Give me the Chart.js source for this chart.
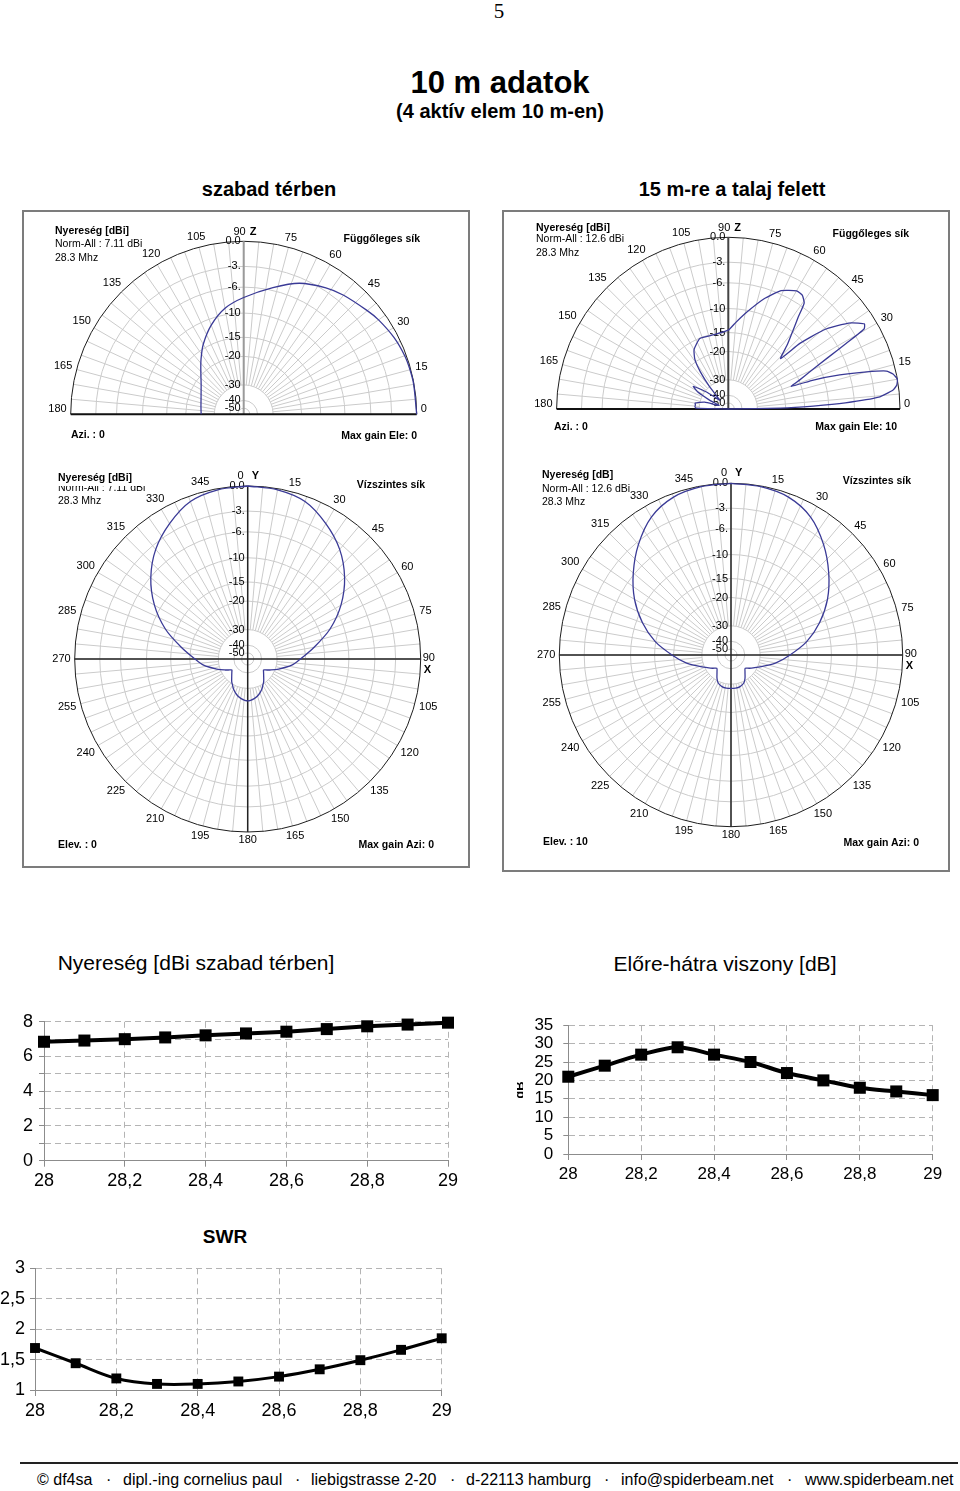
<!DOCTYPE html>
<html>
<head>
<meta charset="utf-8">
<script src="https://cdn.jsdelivr.net/npm/chart.js@4.4.1/dist/chart.umd.min.js"></script>
<style>
body{margin:0;width:960px;height:1491px;position:relative;background:#fff;font-family:Arial,"Liberation Sans",sans-serif;overflow:hidden;color:#000}
.t{position:absolute;white-space:nowrap}
.ctr{transform:translate(-50%,-50%)}
.c{position:absolute}
.frame{position:absolute;border:2px solid #7c7c7c;box-sizing:border-box}
.pl{position:absolute;white-space:nowrap;font-size:10.5px;line-height:12px}
.b{font-weight:bold}
.foot{position:absolute;top:1471px;font-size:16px;white-space:nowrap}
</style>
</head>
<body>

<div class="t ctr" style="left:499px;top:11px;font-family:'Liberation Serif','Times New Roman',serif;font-size:21px">5</div>
<div class="t ctr b" style="left:500px;top:83px;font-size:31px">10 m adatok</div>
<div class="t ctr b" style="left:500px;top:111px;font-size:20px">(4 aktív elem 10 m-en)</div>
<div class="t ctr b" style="left:269px;top:189px;font-size:20px">szabad térben</div>
<div class="t ctr b" style="left:732px;top:189px;font-size:20px">15 m-re a talaj felett</div>

<div class="frame" style="left:22px;top:210px;width:448px;height:658px"></div>
<div class="frame" style="left:502px;top:210px;width:448px;height:662px"></div>

<canvas id="pTL" class="c" width="444" height="243" style="left:24px;top:212px"></canvas>
<canvas id="pBL" class="c" width="444" height="409" style="left:24px;top:457px"></canvas>
<canvas id="pTR" class="c" width="444" height="243" style="left:504px;top:212px"></canvas>
<canvas id="pBR" class="c" width="444" height="413" style="left:504px;top:457px"></canvas>

<!-- feliratok: bal felső -->
<div class="pl b" style="left:55px;top:224px">Nyereség [dBi]</div>
<div class="pl" style="left:55px;top:237px">Norm-All : 7.11 dBi</div>
<div class="pl" style="left:55px;top:251px">28.3 Mhz</div>
<div class="pl b" style="right:540px;top:232px">Függőleges sík</div>
<div class="pl b" style="left:71px;top:428px">Azi. : 0</div>
<div class="pl b" style="right:543px;top:429px">Max gain Ele: 0</div>
<!-- jobb felső -->
<div class="pl b" style="left:536px;top:221px">Nyereség [dBi]</div>
<div class="pl" style="left:536px;top:232px">Norm-All : 12.6 dBi</div>
<div class="pl" style="left:536px;top:246px">28.3 Mhz</div>
<div class="pl b" style="right:51px;top:227px">Függőleges sík</div>
<div class="pl b" style="left:554px;top:420px">Azi. : 0</div>
<div class="pl b" style="right:63px;top:420px">Max gain Ele: 10</div>
<!-- bal alsó -->
<div class="pl b" style="left:58px;top:471px">Nyereség [dBi]</div>
<div style="position:absolute;left:58px;top:486px;width:90px;height:7px;overflow:hidden"><div class="pl" style="left:0;top:-5px">Norm-All : 7.11 dBi</div></div>
<div class="pl" style="left:58px;top:494px">28.3 Mhz</div>
<div class="pl b" style="right:535px;top:478px">Vízszintes sík</div>
<div class="pl b" style="left:58px;top:838px">Elev. : 0</div>
<div class="pl b" style="right:526px;top:838px">Max gain Azi: 0</div>
<!-- jobb alsó -->
<div class="pl b" style="left:542px;top:468px">Nyereség [dB]</div>
<div class="pl" style="left:542px;top:482px">Norm-All : 12.6 dBi</div>
<div class="pl" style="left:542px;top:495px">28.3 Mhz</div>
<div class="pl b" style="right:49px;top:474px">Vízszintes sík</div>
<div class="pl b" style="left:543px;top:835px">Elev. : 10</div>
<div class="pl b" style="right:41px;top:836px">Max gain Azi: 0</div>

<div class="t ctr" style="left:196px;top:963px;font-size:21px">Nyereség [dBi szabad térben]</div>
<div class="t ctr" style="left:725px;top:964px;font-size:21px">Előre-hátra viszony [dB]</div>
<div class="t ctr b" style="left:225px;top:1237px;font-size:19px">SWR</div>

<canvas id="gainChart" class="c" width="470" height="195" style="left:0;top:1005px"></canvas>
<canvas id="fbChart" class="c" width="470" height="195" style="left:490px;top:1005px"></canvas>
<canvas id="swrChart" class="c" width="470" height="180" style="left:0;top:1250px"></canvas>
<div style="position:absolute;left:517px;top:1082px;width:6px;height:16px;overflow:hidden"><div class="b" style="position:absolute;left:-6px;top:0;font-size:13px;line-height:16px;transform:rotate(-90deg)">dB</div></div>

<div style="position:absolute;left:20px;top:1462px;width:938px;height:2px;background:#222"></div>
<div class="foot" style="left:37px">© df4sa</div>
<div class="foot" style="left:106px">·</div>
<div class="foot" style="left:123px">dipl.-ing cornelius paul</div>
<div class="foot" style="left:295px">·</div>
<div class="foot" style="left:311px">liebigstrasse 2-20</div>
<div class="foot" style="left:450px">·</div>
<div class="foot" style="left:466px">d-22113 hamburg</div>
<div class="foot" style="left:604px">·</div>
<div class="foot" style="left:621px">info@spiderbeam.net</div>
<div class="foot" style="left:787px">·</div>
<div class="foot" style="left:805px">www.spiderbeam.net</div>

<script>
// ---- frekvencia adatok (MHz) ----
const freqs = [28, 28.1, 28.2, 28.3, 28.4, 28.5, 28.6, 28.7, 28.8, 28.9, 29];
const freqTicks = [28, 28.2, 28.4, 28.6, 28.8, 29];
const gainDbi = [6.85, 6.92, 7.0, 7.1, 7.22, 7.33, 7.43, 7.58, 7.74, 7.84, 7.95];
const gainTicks = [0, 1, 2, 3, 4, 5, 6, 7, 8];
const gainLabels = ['0', '', '2', '', '4', '', '6', '', '8'];
const fbDb = [21, 24, 27, 29, 27, 25, 22, 20, 18, 17, 16];
const fbTicks = [0, 5, 10, 15, 20, 25, 30, 35];
const fbLabels = ['0', '5', '10', '15', '20', '25', '30', '35'];
const swr = [1.69, 1.44, 1.19, 1.10, 1.10, 1.14, 1.22, 1.34, 1.49, 1.66, 1.85];
const swrTicks = [1, 1.5, 2, 2.5, 3];
const swrLabels = ['1', '1,5', '2', '2,5', '3'];

// ---- iránydiagramok ----
const ringDb = [0, -3, -6, -10, -15, -20, -30, -40, -50];
const ringR = [1, 0.855, 0.735, 0.585, 0.445, 0.335, 0.17, 0.08, 0.035];
const ringLabels = ['0.0', '-3.', '-6.', '-10', '-15', '-20', '-30', '-40', '-50'];

// függőleges sík, szabad térben
const elevFreeAng = [0, 10, 15, 20, 27, 35, 40, 50, 57, 67, 77, 90, 100, 110, 120, 128, 135, 145, 152, 160, 170, 180];
const elevFreeDb = [0, -0.05, -0.1, -0.2, -0.5, -1.0, -1.4, -2.1, -2.65, -3.8, -5.6, -7.6, -9.0, -11.3, -14.2, -17, -19.3, -22.1, -23.4, -24.4, -25.1, -25.4];

// függőleges sík, 15 m a talaj felett
const elevGndAng = [0, 1, 2, 3, 4.5, 6.6, 8, 10, 12, 13.5, 15, 17, 18.8, 19.8, 22, 24.3, 27.3, 29.1, 30.5, 32,
  35, 37.5, 39.7, 42.5, 44, 47.5, 50.5, 52.7, 54.4, 57, 60, 66, 72, 79, 85, 90, 101, 112, 120, 124,
  127, 130, 134, 138, 142, 147, 151, 155, 158, 161, 164, 167, 170, 173, 176, 178.5, 180];
const elevGndDb = [-60, -22, -13.2, -7.4, -2.5, -0.7, -0.2, 0, -0.4, -1.1, -3.5, -7.5, -12.2, -17.5, -15, -12.5, -8.2, -4.7, -1.7, -1.35,
  -2.6, -4.5, -6.45, -10.7, -16, -12.7, -9.8, -7.7, -5.4, -4.6, -4.5, -5.5, -7.6, -10.3, -12.8, -14.5, -15.2, -15.1, -17.1, -19.4,
  -24, -30, -42, -38, -31, -25.6, -28, -36, -45, -42, -33, -30, -28.4, -28.6, -28.5, -29, -60];

// vízszintes sík, szabad térben
const azFreeAng = [0, 10, 20, 30, 40, 50, 60, 70, 80, 90, 98, 108, 116, 122, 125, 128, 135, 145, 150, 155, 163, 170, 180,
  190, 197, 205, 210, 215, 225, 232, 235, 238, 244, 252, 262, 270, 280, 290, 300, 310, 320, 330, 340, 350, 360];
const azFreeDb = [0, -0.15, -0.65, -2.0, -3.7, -6.1, -9.0, -12.8, -17.5, -21.8, -24.7, -28.9, -32.8, -35.6, -36.5, -36, -34.4, -31, -29.7, -28.6, -27.2, -26.3, -25.6,
  -26.3, -27.2, -28.6, -29.7, -31, -34.4, -36, -36.5, -35.6, -32.8, -28.9, -24.7, -21.8, -17.5, -12.8, -9.0, -6.1, -3.7, -2.0, -0.65, -0.15, 0];

// vízszintes sík, 10 fok elevációnál, talaj felett
const azGndAng = [0, 10, 20, 30, 40, 50, 60, 70, 80, 90, 100, 110, 118, 126, 133, 140, 149, 155, 164, 172, 180,
  188, 196, 205, 211, 220, 227, 234, 242, 250, 260, 270, 280, 290, 300, 310, 320, 330, 340, 350, 360];
const azGndDb = [0, -0.1, -0.45, -1.5, -3.4, -5.8, -8.3, -11.3, -14.9, -19.6, -24.2, -28.5, -31.5, -34.3, -36.3, -34.8, -31.3, -29.5, -28.7, -28.5, -28.5,
  -28.5, -28.7, -29.5, -31.3, -34.8, -36.3, -34.3, -31.5, -28.5, -24.2, -19.6, -14.9, -11.3, -8.3, -5.8, -3.4, -1.5, -0.45, -0.1, 0];

const elevLabels = [0, 15, 30, 45, 60, 75, 105, 120, 135, 150, 165, 180];
const azLabels = [15, 30, 45, 60, 75, 105, 120, 135, 150, 165, 180, 195, 210, 225, 240, 255, 270, 285, 300, 315, 330, 345];

function dbToR(d) {
  if (d >= 0) return 1;
  for (let i = 1; i < ringDb.length; i++) {
    if (d >= ringDb[i]) {
      const t = (ringDb[i - 1] - d) / (ringDb[i - 1] - ringDb[i]);
      return ringR[i - 1] + t * (ringR[i] - ringR[i - 1]);
    }
  }
  return Math.max(0, ringR[ringR.length - 1] * (d + 60) / 10);
}

function unit(kind, a) {
  const t = a * Math.PI / 180;
  return kind === 'elev' ? [Math.cos(t), Math.sin(t)] : [Math.sin(t), Math.cos(t)];
}

const polarGrid = {
  id: 'polarGrid',
  beforeDatasetsDraw(chart, args, o) {
    const ctx = chart.ctx, sx = chart.scales.x, sy = chart.scales.y;
    const half = o.kind === 'elev';
    const P = (r, a) => { const u = unit(o.kind, a); return [sx.getPixelForValue(r * u[0]), sy.getPixelForValue(r * u[1])]; };
    const cx = sx.getPixelForValue(0), cy = sy.getPixelForValue(0);
    const R = sx.getPixelForValue(1) - cx;
    ctx.save();
    ctx.lineWidth = 1;
    ctx.strokeStyle = '#cbcbcb';
    const r0 = dbToR(-30);
    for (let a = 0; a < (half ? 181 : 360); a += 5) {
      const p1 = P(r0, a), p2 = P(1, a);
      ctx.beginPath(); ctx.moveTo(p1[0], p1[1]); ctx.lineTo(p2[0], p2[1]); ctx.stroke();
    }
    ringDb.slice(1).forEach(d => {
      ctx.beginPath(); ctx.arc(cx, cy, dbToR(d) * R, half ? Math.PI : 0, 2 * Math.PI); ctx.stroke();
    });
    ctx.strokeStyle = '#1e1e1e';
    ctx.beginPath(); ctx.arc(cx, cy, R, half ? Math.PI : 0, 2 * Math.PI); ctx.stroke();

    // tengelyek
    ctx.lineWidth = 2;
    if (half) {
      ctx.strokeStyle = o.axisCol;
      ctx.beginPath(); ctx.moveTo(cx, cy); ctx.lineTo(cx, cy - R); ctx.stroke();
      ctx.strokeStyle = '#111';
      ctx.beginPath(); ctx.moveTo(cx - R, cy); ctx.lineTo(cx + R, cy); ctx.stroke();
    } else {
      ctx.lineWidth = 1.5;
      ctx.strokeStyle = '#222';
      ctx.beginPath(); ctx.moveTo(cx, cy - R); ctx.lineTo(cx, cy + R); ctx.stroke();
      ctx.beginPath(); ctx.moveTo(cx - R, cy); ctx.lineTo(cx + R, cy); ctx.stroke();
    }

    // feliratok
    ctx.fillStyle = '#000';
    ctx.font = '11px Arial';
    ctx.textBaseline = 'middle';
    ctx.textAlign = 'right';
    ringDb.forEach((d, i) => ctx.fillText(ringLabels[i], cx - 3, cy - dbToR(d) * R));

    ctx.textAlign = 'center';
    (half ? elevLabels : azLabels).forEach(a => {
      const txt = String(a), w = ctx.measureText(txt).width, u = unit(o.kind, a);
      const dist = R + 4 + Math.abs(u[0]) * w / 2 + Math.abs(u[1]) * 4;
      const lift = half && (a === 0 || a === 180) ? 5 : 0;
      ctx.fillText(txt, cx + u[0] * dist, cy - u[1] * dist - lift);
    });
    if (half) {
      ctx.textAlign = 'right'; ctx.fillText('90', cx + 2, cy - R - 9);
      ctx.textAlign = 'left'; ctx.font = 'bold 11px Arial'; ctx.fillText('Z', cx + 6, cy - R - 9);
    } else {
      ctx.textAlign = 'right'; ctx.fillText('0', cx - 4, cy - R - 10);
      ctx.textAlign = 'left'; ctx.fillText('90', cx + R + 2, cy - 1);
      ctx.font = 'bold 11px Arial';
      ctx.fillText('Y', cx + 4, cy - R - 10);
      ctx.fillText('X', cx + R + 3, cy + 11);
    }
    ctx.restore();
  }
};

function makePolar(id, kind, cx, cy, R, ang, db, axisCol, tension) {
  const el = document.getElementById(id);
  const w = el.width, h = el.height;
  const pts = ang.map((a, i) => {
    const r = dbToR(db[i]), u = unit(kind, a);
    return {x: r * u[0], y: r * u[1]};
  });
  return new Chart(el, {
    type: 'scatter',
    data: {
      datasets: [{
        data: pts,
        showLine: true,
        borderColor: '#3a3a96',
        borderWidth: 1.3,
        pointRadius: 0,
        tension: tension,
        clip: false
      }]
    },
    options: {
      responsive: false,
      animation: false,
      devicePixelRatio: 1,
      events: [],
      layout: {padding: 0},
      plugins: {
        legend: {display: false},
        tooltip: {enabled: false},
        polarGrid: {kind: kind, axisCol: axisCol}
      },
      scales: {
        x: {display: false, min: -cx / R, max: (w - cx) / R},
        y: {display: false, min: -(h - cy) / R, max: cy / R}
      }
    },
    plugins: [polarGrid]
  });
}

makePolar('pTL', 'elev', 219.7, 202.3, 173, elevFreeAng, elevFreeDb, '#9a9a9a', 0.3);
makePolar('pTR', 'elev', 224.3, 197, 171.7, elevGndAng, elevGndDb, '#444', 0.15);
makePolar('pBL', 'az', 223.7, 202, 173, azFreeAng, azFreeDb, '#222', 0.3);
makePolar('pBR', 'az', 227, 198, 171.7, azGndAng, azGndDb, '#222', 0.3);

// ---- vonaldiagramok ----
const fmt = v => String(v).replace('.', ',');

function makeLine(id, values, yTicks, yLabels, lay) {
  const axisFont = {family: 'Arial', size: lay.fs};
  return new Chart(document.getElementById(id), {
    type: 'line',
    data: {
      datasets: [{
        data: freqs.map((f, i) => ({x: f, y: values[i]})),
        borderColor: '#000',
        backgroundColor: '#000',
        borderWidth: lay.lw,
        pointStyle: 'rect',
        pointRadius: lay.pr,
        pointBorderWidth: 0,
        tension: lay.tension,
        clip: false
      }]
    },
    options: {
      responsive: false,
      animation: false,
      devicePixelRatio: 1,
      events: [],
      layout: {padding: lay.pad},
      plugins: {legend: {display: false}, tooltip: {enabled: false}},
      scales: {
        x: {
          type: 'linear', min: 28, max: 29,
          afterFit: s => { s.height = lay.xh; },
          afterBuildTicks: s => { s.ticks = freqTicks.map(v => ({value: v})); },
          ticks: {callback: v => fmt(v), color: '#000', font: axisFont, padding: 4, maxRotation: 0, autoSkip: false},
          grid: {color: '#b4b4b4', tickLength: 6, tickColor: '#8c8c8c'},
          border: {dash: [6, 4], color: '#8c8c8c'}
        },
        y: {
          min: yTicks[0], max: yTicks[yTicks.length - 1],
          afterFit: s => { s.width = lay.yw; },
          afterBuildTicks: s => { s.ticks = yTicks.map(v => ({value: v})); },
          ticks: {callback: (v, i) => yLabels[i], color: '#000', font: axisFont, padding: lay.ypad, autoSkip: false},
          grid: {color: '#b4b4b4', tickLength: 5, tickColor: '#8c8c8c'},
          border: {dash: [6, 4], color: '#8c8c8c'}
        }
      }
    }
  });
}

makeLine('gainChart', gainDbi, gainTicks, gainLabels,
  {fs: 18, lw: 4, pr: 8.5, tension: 0, pad: {left: 0, right: 22, top: 16.7, bottom: 9}, xh: 30.3, yw: 44, ypad: 6});
makeLine('fbChart', fbDb, fbTicks, fbLabels,
  {fs: 17, lw: 4, pr: 8.5, tension: 0.3, pad: {left: 0, right: 27.3, top: 15.7, bottom: 16}, xh: 30, yw: 78.3, ypad: 10});
makeLine('swrChart', swr, swrTicks, swrLabels,
  {fs: 18, lw: 3, pr: 7, tension: 0.35, pad: {left: 0, right: 28.3, top: 18.3, bottom: 10}, xh: 30, yw: 35, ypad: 5});
</script>
</body>
</html>
